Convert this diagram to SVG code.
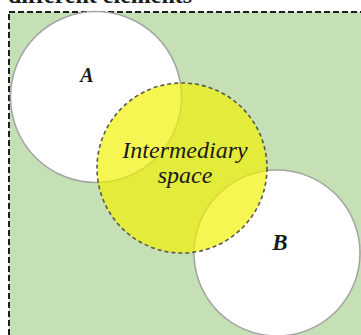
<svg xmlns="http://www.w3.org/2000/svg" width="361" height="335" viewBox="0 0 361 335">
<style>
.set{fill:#ffffff;stroke:#a3a3a3;stroke-width:1.5}
.mid{fill:#f2f200;fill-opacity:0.68;stroke:#5a5a4a;stroke-width:1.6;stroke-dasharray:4 3}
.lbl{font-family:"Liberation Serif",serif;font-style:italic;fill:#1a1a1a;text-anchor:middle}
</style>
<rect width="361" height="335" fill="#ffffff"/>
<text x="8" y="3" font-family="Liberation Serif,serif" font-weight="bold" font-size="24" fill="#1a1a1a">different elements</text>
<g id="frame">
<rect x="9" y="12" width="362" height="335" fill="#c5e0b4" stroke="#1e1e1e" stroke-width="2" stroke-dasharray="6 3"/>
</g>
<g id="A">
<circle class="set" cx="96" cy="97" r="85.5"/>
<text class="lbl" x="87" y="82" font-size="20" font-weight="bold">A</text>
</g>
<g id="B">
<circle class="set" cx="277" cy="253" r="83"/>
<text class="lbl" x="280" y="250" font-size="23" font-weight="bold">B</text>
</g>
<g id="intermediary">
<circle class="mid" cx="182" cy="168" r="85"/>
<text class="lbl" x="185" y="158" font-size="24">Intermediary</text>
<text class="lbl" x="185" y="183" font-size="24">space</text>
</g>
<g id="connectors"/>
</svg>
